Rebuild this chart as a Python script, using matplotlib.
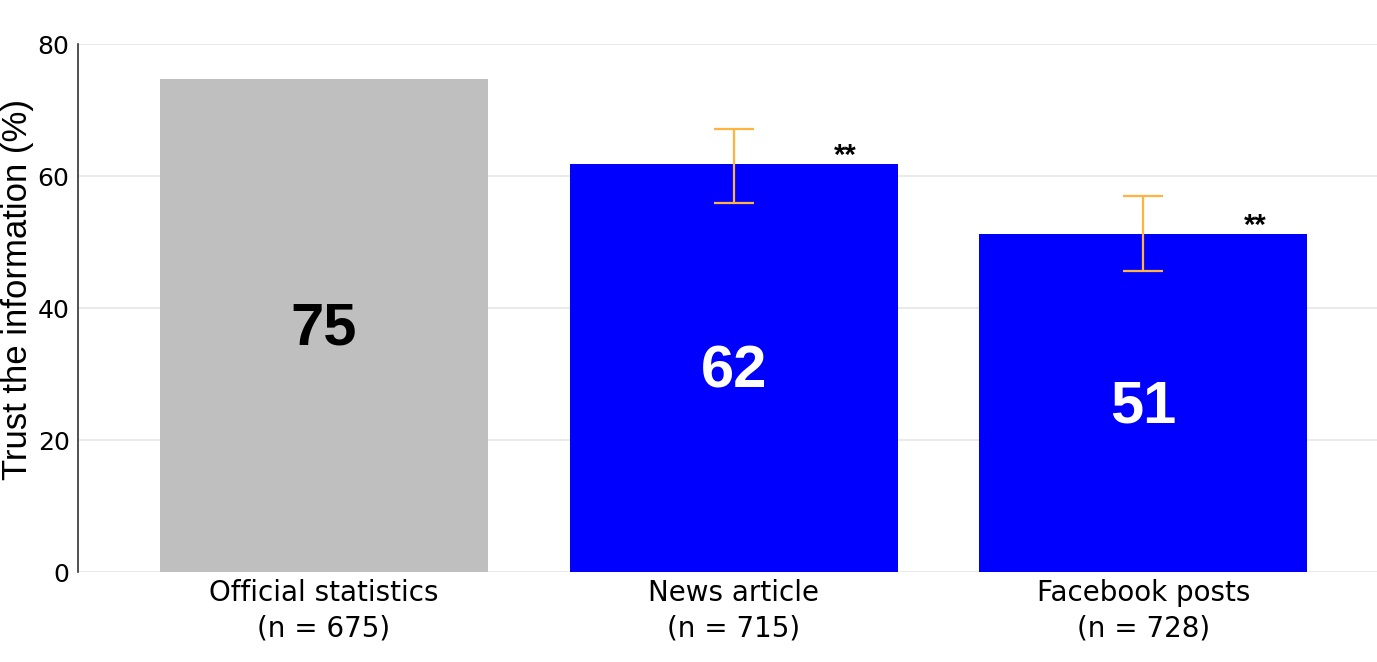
import matplotlib
matplotlib.use("Agg")
import matplotlib.pyplot as plt

categories = ["Official statistics\n(n = 675)", "News article\n(n = 715)", "Facebook posts\n(n = 728)"]
values = [74.7, 61.8, 51.2]
labels = ["75", "62", "51"]
err_low = [None, 56.0, 45.6]
err_high = [None, 67.1, 57.0]
stars = ["", "**", "**"]
colors = ["#BFBFBF", "#0000FF", "#0000FF"]
label_colors = ["black", "white", "white"]

plt.rcParams['font.family'] = ['Liberation Sans', 'DejaVu Sans']

fig = plt.figure(figsize=(13.77, 6.62), dpi=100)
ax = fig.add_axes([0.0566, 0.1355, 0.9434, 0.798])

x = list(range(len(categories)))
ax.bar(x, values, width=0.8, color=colors, zorder=2)

for i, v in enumerate(values):
    ax.text(i, v / 2 - 2.9, labels[i], ha="center", va="baseline", fontsize=43,
            fontweight="bold", color=label_colors[i], zorder=4)
    if err_low[i] is not None:
        mid = (err_low[i] + err_high[i]) / 2
        half = (err_high[i] - err_low[i]) / 2
        ax.errorbar(i, mid, yerr=half, fmt="none", ecolor="#FFB53D",
                    elinewidth=1.6, capsize=14.4, capthick=1.6, zorder=3)
    if stars[i]:
        ax.text(i + 0.272, v + 0.1, stars[i], ha="center", va="baseline",
                fontsize=21, fontweight="bold", color="black", zorder=4)

ax.set_xlim(-0.6, 2.57)
ax.set_ylim(0, 80)
ax.set_yticks([0, 20, 40, 60, 80])
ax.set_yticklabels(["0", "20", "40", "60", "80"], family=['DejaVu Sans'], fontsize=18)
ax.set_xticks(x)
ax.set_xticklabels(categories, fontsize=20, family=['DejaVu Sans'], linespacing=1.33)
ax.tick_params(axis="x", length=0, pad=5)
ax.tick_params(axis="y", length=0, pad=6)
fig.text(18 / 1377, 1 - 289 / 662, "Trust the information (%)", rotation=90,
         ha="center", va="center", fontsize=25)
ax.grid(axis="y", color="#E6E6E6", linewidth=1.2, zorder=0)
ax.set_axisbelow(True)
for s in ["top", "right", "bottom"]:
    ax.spines[s].set_visible(False)
ax.spines["left"].set_color("#333333")
ax.spines["left"].set_linewidth(1.2)

fig.savefig("out.png", dpi=100)
